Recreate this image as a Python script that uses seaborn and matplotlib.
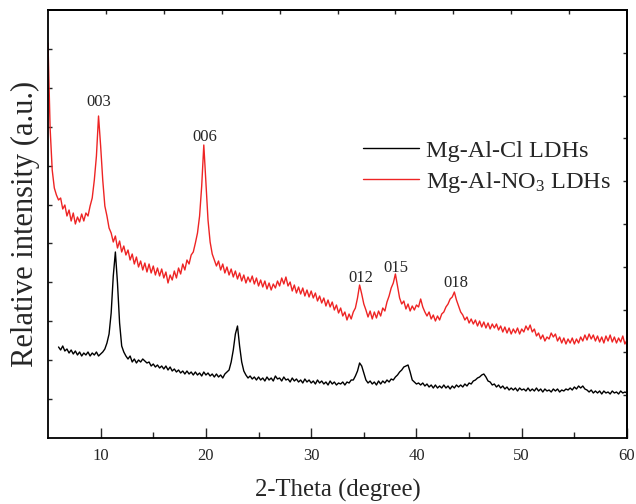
import numpy as np
import pandas as pd
import matplotlib
matplotlib.use("Agg")
import matplotlib.pyplot as plt
import seaborn as sns

# ---------------- data ----------------
# 2-theta scan grid (degrees), 0.2 deg steps
red_start, black_start, scan_end, scan_step = 5.0, 6.0, 60.0, 0.2

nitrate_intensity = [
    395, 310, 268, 250, 243, 238, 240, 229, 233, 222,
    228, 217, 225, 214, 221, 216, 224, 217, 225, 222,
    232, 240, 258, 282, 322, 292, 258, 232, 222, 210,
    205, 196, 202, 190, 197, 186, 192, 183, 188, 178,
    184, 174, 181, 171, 177, 168, 175, 166, 174, 165,
    172, 163, 170, 162, 169, 160, 166, 155, 163, 158,
    167, 160, 170, 164, 174, 168, 178, 174, 183, 186,
    195, 205, 222, 252, 293, 255, 218, 196, 184, 178,
    172, 177, 168, 174, 165, 171, 163, 169, 161, 167,
    159, 165, 157, 163, 155, 161, 156, 162, 154, 160,
    152, 158, 151, 157, 149, 155, 148, 154, 150, 157,
    152, 160, 154, 161, 152, 156, 147, 153, 145, 151,
    144, 150, 142, 148, 141, 147, 140, 145, 137, 142,
    135, 140, 132, 138, 131, 136, 128, 133, 125, 130,
    122, 126, 118, 124, 119, 126, 130, 140, 153, 144,
    134, 128, 121, 127, 119, 126, 120, 127, 122, 130,
    127, 136, 142, 150, 155, 164, 152, 140, 134, 137,
    129, 134, 127, 132, 128, 133, 131, 139, 131, 126,
    122, 126, 119, 123, 117, 122, 118, 124, 126, 131,
    134, 139, 141, 146, 138, 132, 126, 123, 118, 121,
    115, 119, 114, 118, 112, 117, 111, 116, 110, 115,
    109, 114, 110, 114, 108, 112, 106, 111, 105, 110,
    104, 109, 105, 110, 104, 109, 106, 112, 108, 113,
    106, 109, 102, 105, 99, 103, 97, 101, 99, 105,
    101, 104, 97, 101, 95, 100, 94, 99, 95, 100,
    94, 99, 95, 101, 97, 103, 98, 104, 99, 103,
    97, 102, 96, 101, 95, 102, 97, 103, 96, 101,
    95, 100, 96, 102, 94, 98,
]

chloride_intensity = [
    91, 88, 92, 87, 89,
    85, 88, 84, 87, 83, 86, 82, 85, 83, 86,
    82, 85, 83, 86, 82, 84, 86, 89, 95, 104,
    125, 162, 186, 155, 115, 92, 86, 82, 79, 82,
    76, 79, 75, 78, 76, 79, 77, 75, 76, 72,
    74, 71, 73, 70, 72, 69, 72, 68, 71, 67,
    69, 66, 68, 65, 67, 64, 67, 64, 66, 63,
    66, 63, 65, 62, 66, 63, 65, 62, 64, 61,
    64, 61, 63, 60, 64, 66, 68, 76, 88, 104,
    112, 92, 76, 67, 63, 60, 62, 59, 61, 58,
    61, 58, 60, 57, 61, 58, 60, 57, 62, 59,
    60, 57, 61, 58, 59, 56, 60, 57, 59, 56,
    58, 55, 59, 56, 58, 55, 57, 54, 58, 55,
    57, 54, 56, 53, 57, 54, 56, 53, 55, 54,
    56, 53, 56, 55, 58, 58, 62, 67, 75, 72,
    65, 58, 55, 57, 54, 56, 53, 57, 54, 57,
    55, 58, 56, 59, 58, 61, 63, 66, 68, 71,
    72, 73, 66, 58, 56, 54, 55, 53, 55, 52,
    54, 51, 53, 50, 53, 50, 52, 50, 53, 50,
    52, 49, 52, 50, 53, 51, 53, 51, 54, 52,
    55, 54, 57, 58, 60, 61, 63, 64, 61, 57,
    56, 53, 54, 51, 53, 50, 52, 49, 51, 48,
    50, 48, 50, 47, 50, 48, 49, 47, 50, 47,
    49, 47, 50, 47, 49, 46, 49, 47, 48, 46,
    49, 47, 49, 46, 48, 47, 49, 48, 50, 48,
    51, 49, 52, 50, 52, 49, 48, 46, 48, 45,
    47, 45, 47, 44, 47, 45, 46, 44, 47, 45,
    46, 44, 47, 45, 46, 45,
]

series_labels = ["Mg-Al-Cl LDHs", "Mg-Al-NO$_3$ LDHs"]
peak_labels = ["003", "006", "012", "015", "018"]
peak_angles = [9.84, 19.9, 34.7, 38.05, 43.7]
peak_label_heights = [336, 301, 160, 170, 155]
x_ticks = [10, 20, 30, 40, 50, 60]

# ---------------- build tables ----------------
n_red = len(nitrate_intensity)
n_black = len(chloride_intensity)
red_theta = np.round(red_start + scan_step * np.arange(n_red), 1)
black_theta = np.round(black_start + scan_step * np.arange(n_black), 1)
df_red = pd.DataFrame({"theta": red_theta, "I": nitrate_intensity})
df_black = pd.DataFrame({"theta": black_theta, "I": chloride_intensity})

# ---------------- style ----------------
sns.set_style("ticks")
plt.rcParams["font.family"] = ["Liberation Serif", "DejaVu Serif"]
plt.rcParams["mathtext.fontset"] = "custom"
plt.rcParams["mathtext.rm"] = "Liberation Serif"
plt.rcParams["mathtext.it"] = "Liberation Serif:italic"

fig = plt.figure(figsize=(6.36, 5.04), dpi=100)
ax = fig.add_axes([48 / 636, 66 / 504, 579 / 636, 428 / 504])

RED = "#EE2424"
sns.lineplot(data=df_red, x="theta", y="I", ax=ax, color=RED, lw=1.0,
             label=series_labels[1], zorder=2, estimator=None, sort=False)
sns.lineplot(data=df_black, x="theta", y="I", ax=ax, color="black", lw=1.0,
             label=series_labels[0], zorder=3, estimator=None, sort=False)

ax.set_xlim(5, 60)
ax.set_ylim(0, 428)

for lab, xa, ya in zip(peak_labels, peak_angles, peak_label_heights):
    ax.text(xa, ya, lab, ha="center", va="center", fontsize=12)

# ticks
ax.set_xticks(x_ticks)
ax.set_xticks([15, 25, 35, 45, 55], minor=True)
ax.tick_params(axis="x", which="major", direction="in", length=7, width=1,
               labelsize=12, pad=7)
ax.tick_params(axis="x", which="minor", direction="in", length=4, width=1)
ax.set_yticks(np.linspace(0, 428, 12)[1:-1])
ax.tick_params(axis="y", direction="in", length=3, width=1, labelleft=False)

top = ax.secondary_xaxis("top")
top.set_xticks(np.linspace(5, 60, 11)[1:-1])
top.tick_params(direction="in", length=3, width=1, labeltop=False)
right = ax.secondary_yaxis("right")
right.set_yticks(np.linspace(0, 428, 11)[1:-1])
right.tick_params(direction="in", length=3, width=1, labelright=False)

for sp in list(ax.spines.values()) + [top.spines["top"], right.spines["right"]]:
    sp.set_visible(True)
    sp.set_linewidth(1.3)
    sp.set_color("black")

ax.set_xlabel("2-Theta (degree)", fontsize=17.8, labelpad=11)
ax.set_ylabel("Relative intensity (a.u.)", fontsize=22, labelpad=6)

handles, labels = ax.get_legend_handles_labels()
order = [labels.index(series_labels[0]), labels.index(series_labels[1])]
ax.legend([handles[i] for i in order], [labels[i] for i in order],
          loc="upper left", bbox_to_anchor=(0.544, 0.697), frameon=False,
          fontsize=17.5, handlelength=2.3, handletextpad=0.3,
          labelspacing=0.33, borderpad=0, borderaxespad=0)

fig.savefig("out.png", dpi=100)
